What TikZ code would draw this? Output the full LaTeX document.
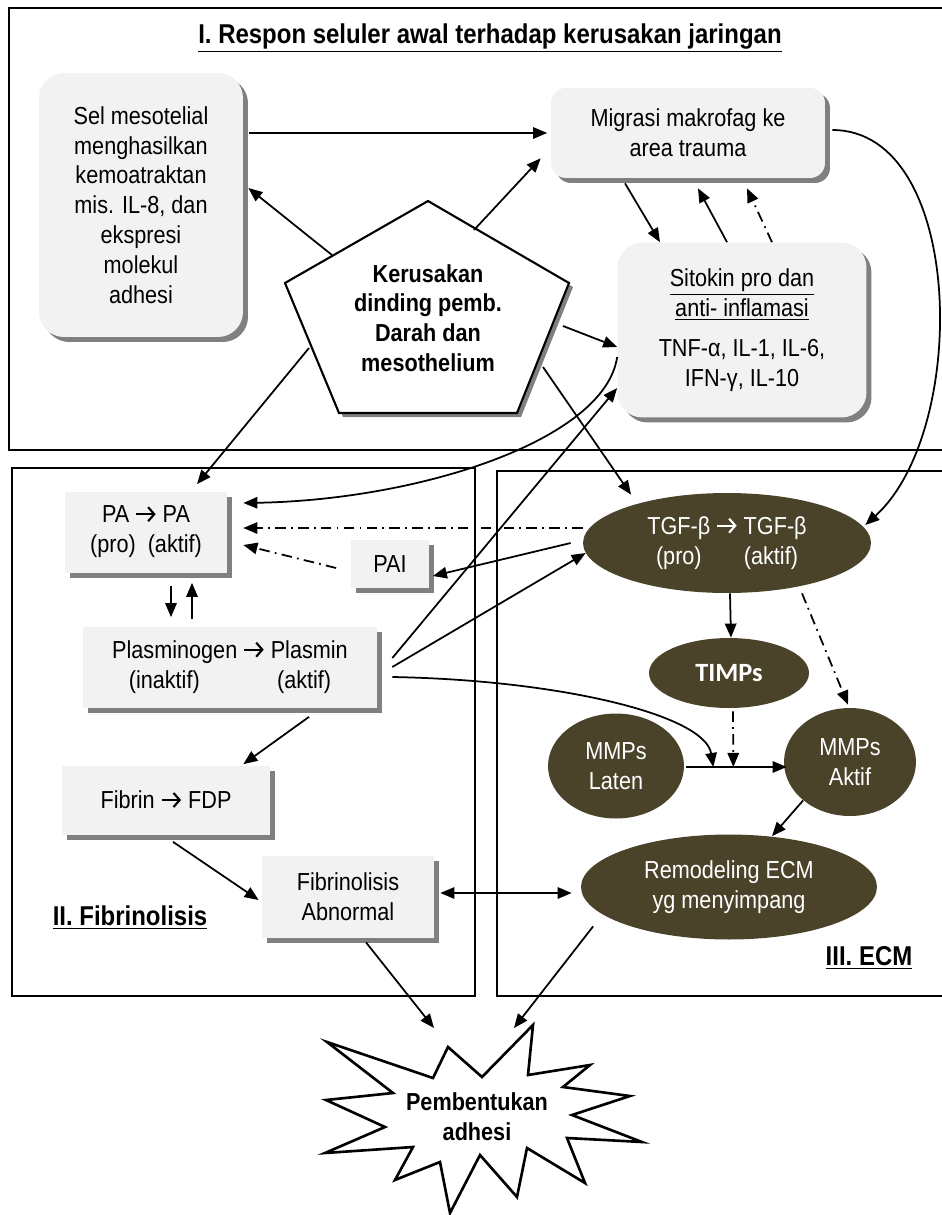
\documentclass[tikz,border=0pt]{standalone}
\usepackage{fontspec}
\setmainfont{Liberation Sans}[FakeStretch=0.88]
\newfontfamily\timpsfont{Carlito}
\usetikzlibrary{shapes.geometric, shadows, arrows.meta, calc}
\definecolor{boxgray}{HTML}{F2F2F2}
\definecolor{shadegray}{HTML}{808080}
\definecolor{ecmbrown}{HTML}{4A432A}
% heavy arrow used inside the texts
\newcommand{\chevarrow}{\tikz[baseline=-5pt, x=1pt, y=1pt]
    \draw[line width=1.2pt, -{Straight Barb[length=3.5pt, width=8pt, line width=1.2pt]}] (0,0) -- (11,0);}

\begin{document}
\begin{tikzpicture}[x=0.02cm, y=-0.02cm,
        >={Triangle[length=8pt,width=6.5pt]},
        every node/.style={font=\fontsize{14}{17}\selectfont, align=center},
        grey box/.style={rectangle, fill=boxgray, inner sep=0pt,
            drop shadow={shadow xshift=0.1cm, shadow yshift=-0.1cm, fill=shadegray, opacity=1}},
        round box/.style={grey box, rounded corners=0.5cm},
        dark oval/.style={ellipse, fill=ecmbrown, text=white, inner sep=0pt},
        frame/.style={line width=1.3pt},
        arr/.style={->, line width=1pt},
        dbl/.style={<->, line width=1pt},
        dashdot/.style={arr, dash pattern=on 6pt off 3pt on 1pt off 3pt},
        label text/.style={font=\fontsize{15.5}{18}\selectfont\bfseries},
        bold text/.style={font=\fontsize{14}{17}\selectfont\bfseries}]
        \useasboundingbox (0,0) rectangle (942,1215);

        % Frames
        \draw[frame] (9,8) rectangle (960,450);
        \draw[frame] (12,468) rectangle (475,996);
        \draw[frame] (497,471) rectangle (960,996);

        % I. Early cellular response
        \node[label text] (title) at (490,38) {\underline{I. Respon seluler awal terhadap kerusakan jaringan}};
        \node[round box, minimum width=4.08cm, minimum height=5.28cm] (sel) at (141,205)
            {Sel mesotelial\\menghasilkan\\kemoatraktan\\mis. IL-8, dan\\ekspresi\\molekul\\adhesi};
        \node[round box, rounded corners=0.3cm, minimum width=5.48cm, minimum height=1.8cm] (migr) at (688,133)
            {Migrasi makrofag ke\\area trauma};
        \node[round box, minimum width=4.98cm, minimum height=3.5cm] (sito) at (742,330)
            {\underline{Sitokin pro dan}\\\underline{anti- inflamasi}\\[6pt]TNF-α, IL-1, IL-6,\\IFN-γ, IL-10};

        % Pentagon
        \fill[shadegray, shift={(4,4)}] (428,201) -- (569,283) -- (517,413) -- (339,413) -- (285,283) -- cycle;
        \draw[line width=1.2pt, fill=white] (428,201) -- (569,283) -- (517,413) -- (339,413) -- (285,283) -- cycle;
        \node[bold text] (kerus) at (428,318) {Kerusakan\\dinding pemb.\\Darah dan\\mesothelium};
        \coordinate (kul) at (332,255);
        \coordinate (kur) at (474,230);
        \coordinate (kr) at (563,326);
        \coordinate (kbr) at (543,367);
        \coordinate (kl) at (309,348);

        % II. Fibrinolysis
        \node[grey box, minimum width=3.24cm, minimum height=1.62cm] (pa) at (146,532) {PA \chevarrow{} PA\\(pro)\ \ (aktif)};
        \node[grey box, minimum width=1.58cm, minimum height=0.96cm] (pai) at (390,564) {PAI};
        \node[grey box, minimum width=5.88cm, minimum height=1.62cm] (plas) at (230,667)
            {Plasminogen \chevarrow{} Plasmin\\(inaktif)\hspace{44pt}(aktif)};
        \node[grey box, minimum width=4.16cm, minimum height=1.38cm] (fibrin) at (166,800) {Fibrin \chevarrow{} FDP};
        \node[grey box, minimum width=3.44cm, minimum height=1.64cm] (fabn) at (348,897) {Fibrinolisis\\Abnormal};
        \node[label text] (lfib) at (130,918) {\underline{II. Fibrinolisis}};

        % III. ECM
        \node[dark oval, minimum width=5.76cm, minimum height=2cm] (tgf) at (727,543)
            {TGF-β {\color{white}\chevarrow} TGF-β\\(pro)\hspace{24pt}(aktif)};
        \node[dark oval, minimum width=3.2cm, minimum height=1.4cm,
            font=\timpsfont\bfseries\fontsize{15}{18}\selectfont] (timps) at (729,673) {TIMPs};
        \node[dark oval, minimum width=2.72cm, minimum height=2.1cm] (mmpl) at (616,766) {MMPs\\Laten};
        \node[dark oval, minimum width=2.64cm, minimum height=2.16cm] (mmpa) at (850,762) {MMPs\\Aktif};
        \node[dark oval, minimum width=5.92cm, minimum height=2.1cm] (remod) at (729,887)
            {Remodeling ECM\\yg menyimpang};
        \node[label text] (lecm) at (869,958) {\underline{III. ECM}};
        \coordinate (jn1) at ($(mmpl.east)+(29,1)$);
        \coordinate (jn2) at ($(mmpl.east)+(49,1)$);

        % Star
        \draw[line width=1.5pt, fill=white] (327,1042) -- (433,1078) -- (448,1047) -- (482,1077) -- (533,1025)
            -- (528,1075) -- (590,1065) -- (563,1087) -- (630,1096) -- (572,1115) -- (642,1142)
            -- (567,1138) -- (585,1183) -- (527,1148) -- (517,1197) -- (480,1155) -- (450,1213)
            -- (440,1162) -- (395,1180) -- (413,1147) -- (325,1153) -- (385,1127) -- (326,1100)
            -- (393,1093) -- cycle;
        \node[bold text] (adh) at (477,1117) {Pembentukan\\adhesi};
        \coordinate (st1) at (434,1028);
        \coordinate (st2) at (514,1028);

        % Connectors in section I
        \draw[arr, shorten >=2pt] ($(sel.east |- migr.west)+(6,0)$) -- (migr.west);
        \draw[arr] (kul) -- ($(sel.east)+(5,-17)$);
        \draw[arr] (kur) -- ($(migr.south west)+(-10,-20)$);
        \draw[arr] ($(migr.south)+(-63,5)$) -- ($(sito.north)+(-82,0)$);
        \draw[arr] ($(sito.north)+(-15,0)$) -- ($(migr.south)+(10,10)$);
        \draw[dashdot] ($(sito.north)+(30,0)$) -- ($(migr.south)+(59,10)$);
        \draw[arr] (kr) -- ($(sito.west)+(0,17)$);

        % Connectors crossing the sections
        \draw[arr] ($(sito.west)+(0,27)$) .. controls (605,440) and (420,500) .. ($(pa.east)+(16,-29)$);
        \draw[arr] ($(plas.east)+(15,-9)$) -- ($(sito.west)+(0,58)$);
        \draw[arr] ($(plas.east)+(15,0)$) -- ($(tgf.west)+(3,10)$);
        \draw[arr] ($(plas.east)+(15,10)$) .. controls (560,680) and (705,715) .. (jn1);
        \draw[arr] (kl) -- ($(pa.north)+(51,-7)$);
        \draw[arr] (kbr) -- ($(tgf.north)+(-96,2)$);
        \draw[arr] ($(migr.east)+(7,-3)$) .. controls (965,130) and (970,430) .. ($(tgf.east)+(-6,-18)$);
        \draw[dashdot] ($(tgf.west)+(0,-15)$) -- ($(pa.east)+(16,-4)$);
        \draw[arr] ($(tgf.west)+(-12,0)$) -- ($(pai.east)+(3,12)$);

        % Connectors in section II
        \draw[dashdot] ($(pai.west)+(-14,4)$) -- ($(pa.east)+(16,13)$);
        \draw[arr] ($(pa.south)+(25,13)$) -- ($(plas.north)+(-59,-9)$);
        \draw[arr] ($(plas.north)+(-38,-7)$) -- ($(pa.south)+(46,10)$);
        \draw[arr] ($(plas.south)+(79,9)$) -- ($(fibrin.north east)+(-27,-1)$);
        \draw[arr] ($(fibrin.south)+(7,7)$) -- ($(fabn.west)+(-3,3)$);
        \draw[dbl] ($(fabn.east)+(6,-4)$) -- ($(remod.west)+(-9,6)$);
        \draw[arr] ($(fabn.south)+(18,4)$) -- (st1);

        % Connectors in section III
        \draw[arr] ($(tgf.south)+(3,0)$) -- ($(timps.north)+(2,0)$);
        \draw[dashdot] ($(tgf.south)+(75,0)$) -- ($(mmpa.north)+(-2,-3)$);
        \draw[dashdot] ($(timps.south)+(4,3)$) -- (jn2);
        \draw[arr] ($(mmpl.east)+(2,1)$) -- ($(mmpa.west)+(3,5)$);
        \draw[arr] (mmpa.south west) -- ($(remod.north)+(43,2)$);
        \draw[arr] ($(remod.south west)+(-31,2)$) -- (st2);
\end{tikzpicture}
\end{document}
